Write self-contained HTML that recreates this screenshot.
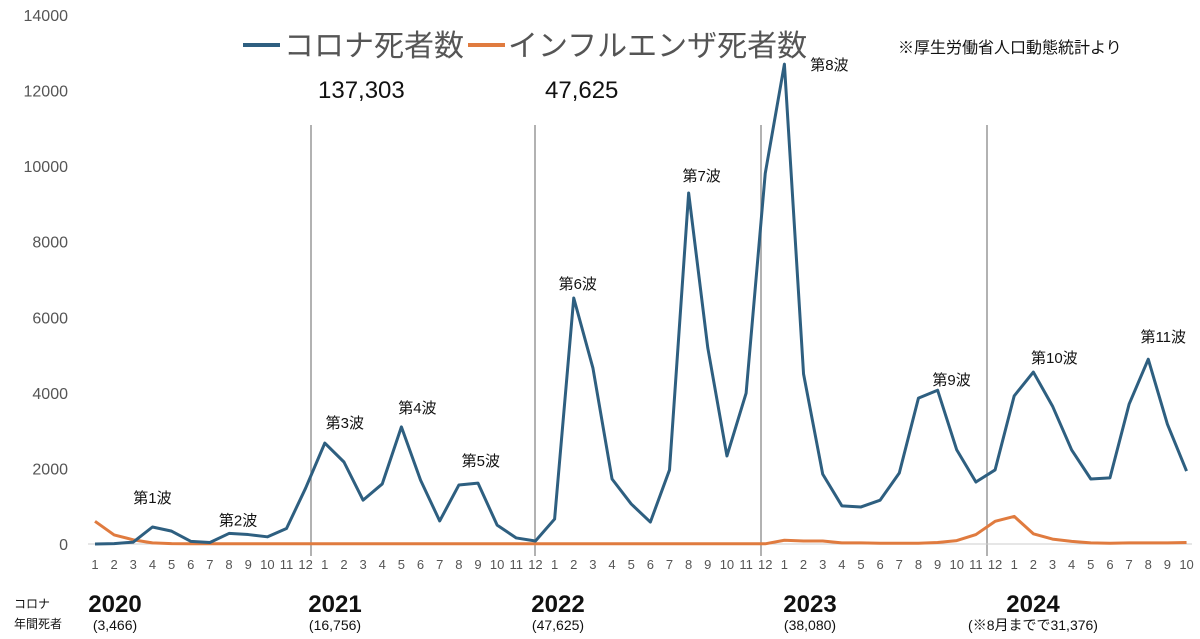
<!DOCTYPE html>
<html><head><meta charset="utf-8"><style>
body{margin:0;background:#fff;}
svg{display:block;font-family:"Liberation Sans","Noto Sans CJK JP",sans-serif;}
</style></head><body>
<svg id="chart" width="1200" height="639">
<g id="yaxis"></g>
<g id="dividers"></g>
<g id="xaxis"></g>
<g id="series"></g>
<g id="waves"></g>
<g>
<line x1="243" y1="45" x2="280" y2="45" stroke="#2e5f80" stroke-width="4"/>
<text x="284" y="56" font-size="30" fill="#555">コロナ死者数</text>
<line x1="468" y1="45" x2="505" y2="45" stroke="#e07b3f" stroke-width="4"/>
<text x="508" y="56" font-size="30" fill="#555">インフルエンザ死者数</text>
</g>
<text x="898" y="53" font-size="16" fill="#111">※厚生労働省人口動態統計より</text>
<text x="318" y="98" font-size="24" fill="#111">137,303</text>
<text x="545" y="98" font-size="24" fill="#111">47,625</text>
<text x="14" y="608" font-size="12" fill="#111">コロナ</text>
<text x="14" y="628" font-size="12" fill="#111">年間死者</text>
<g id="years"></g>
</svg>
<script>
const covid=[0,10,50,450,340,70,40,280,250,190,410,1480,
2670,2170,1160,1590,3100,1690,610,1560,1610,500,160,80,
660,6510,4660,1720,1060,580,1960,9290,5190,2330,3990,9810,
12700,4500,1850,1010,980,1160,1880,3860,4070,2490,1640,1960,
3920,4550,3650,2490,1720,1750,3700,4890,3170,1930];
const flu=[600,240,110,30,10,5,5,5,5,5,5,5,
5,5,5,5,5,5,5,5,5,5,5,5,
5,5,5,5,5,5,5,5,5,5,5,5,
100,80,80,30,30,20,20,20,40,90,250,600,
730,270,130,70,30,20,30,30,30,40];
const yTicks=[0,2000,4000,6000,8000,10000,12000,14000];
const waves=[["第1波",3],["第2波",7],["第3波",12],["第4波",16],["第5波",19],["第6波",25],["第7波",31],["第8波",36],["第9波",44],["第10波",49],["第11波",55]];
const years=["2020","2021","2022","2023","2024"];
const yearTotals=["(3,466)","(16,756)","(47,625)","(38,080)","(※8月までで31,376)"];
// label layout offsets (px), not data
const waveDx=[0,9,20,16,22,4,13,45,14,21,15];
const waveDy=[-2,14,7,8,3,13,10,28,17,13,5];
const NS="http://www.w3.org/2000/svg";
const X=i=>95+i*19.15, Y=v=>544-v*(529/14000);
function mk(p,t,a){const e=document.createElementNS(NS,t);for(const k in a)e.setAttribute(k,a[k]);p.appendChild(e);return e;}
const ya=document.getElementById('yaxis');
yTicks.forEach(v=>{const t=mk(ya,'text',{x:68,y:Y(v)+6,'text-anchor':'end','font-size':16,fill:'#555'});t.textContent=v;

});
const dv=document.getElementById('dividers');
[311,535,761,987].forEach(x=>{const l=mk(dv,'line',{x1:x,x2:x,y1:125,y2:556,stroke:'#999','stroke-width':1.5});

});
const xa=document.getElementById('xaxis');
mk(xa,'line',{x1:88,x2:1192,y1:544,y2:544,stroke:'#ccc'});
covid.forEach((v,i)=>{const t=mk(xa,'text',{x:X(i),y:569,'text-anchor':'middle','font-size':13,fill:'#555'});t.textContent=(i%12)+1;

});
const s=document.getElementById('series');
const p1=mk(s,'polyline',{points:flu.map((v,i)=>X(i)+','+Y(v)).join(' '),fill:'none',stroke:'#e07b3f','stroke-width':3,'stroke-linejoin':'round'});


const p2=mk(s,'polyline',{points:covid.map((v,i)=>X(i)+','+Y(v)).join(' '),fill:'none',stroke:'#2e5f80','stroke-width':3,'stroke-linejoin':'round'});


const w=document.getElementById('waves');
waves.forEach(([n,i],k)=>{const t=mk(w,'text',{x:X(i)+waveDx[k],y:Y(covid[i])-22+waveDy[k],'text-anchor':'middle','font-size':15,fill:'#111'});t.textContent=n;

});
const yg=document.getElementById('years');
years.forEach((y,k)=>{const cx=[115,335,558,810,1033][k];
const t=mk(yg,'text',{x:cx,y:612,'text-anchor':'middle','font-size':24,'font-weight':'bold',fill:'#111'});t.textContent=y;


const u=mk(yg,'text',{x:cx,y:630,'text-anchor':'middle','font-size':14,fill:'#111'});u.textContent=yearTotals[k];

});
</script>
</body></html>
